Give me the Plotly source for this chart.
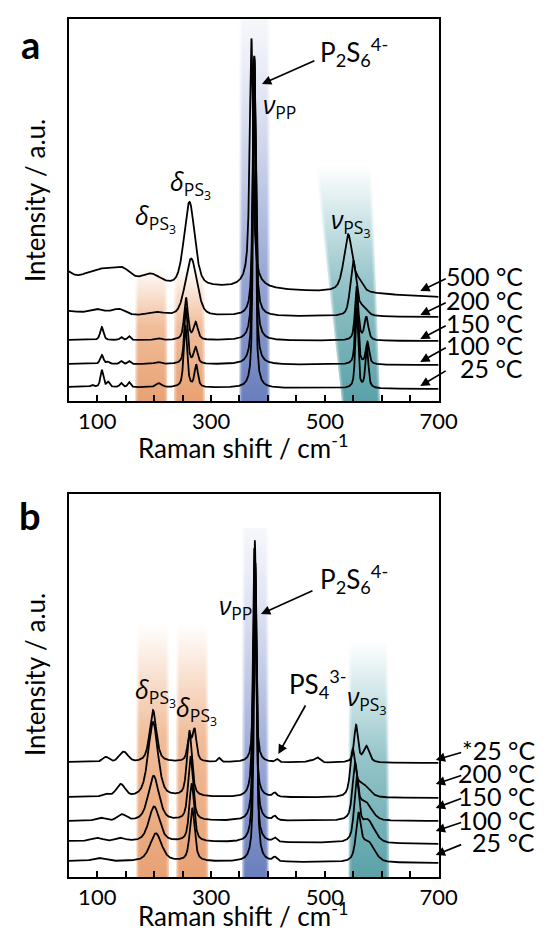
import numpy as np
import plotly.graph_objects as go

W, H = 550, 930

# ------------------------------------------------------------------ data
# Raman shift axis (cm-1)
X_MIN, X_MAX = 50, 700
MAJOR_TICKS = [100, 300, 500, 700]
MAJOR_LABELS = ["100", "300", "500", "700"]
MINOR_TICKS = [150, 200, 250, 350, 400, 450, 550, 600, 650]

# ---- panel a : temperatures, baselines (left / right end) and peaks
LABELS_A = ["25 °C", "100 °C", "150 °C", "200 °C", "500 °C"]
BASE_LEFT_A = [14, 37, 61, 86, 120]
BASE_RIGHT_A = [12, 36, 60, 84, 104]
# peaks: (centre cm-1, height, half width, lorentz fraction)
PEAKS_A_25 = [(91, 2, 3, 0.5), (108, 17, 3, 0.5), (119, 5, 3, 0.5), (142, 4, 3, 0.5),
              (156, 5, 3, 0.5), (208, 4, 6, 0.5), (255, 62, 3.5, 0.6), (274, 22, 3.5, 0.6),
              (376, 328, 2.5, 0.7), (556, 80, 2.8, 0.6), (574, 41, 3, 0.6)]
PEAKS_A_100 = [(108, 9, 3.5, 0.5), (119, 2, 3, 0.5), (142, 3, 3, 0.5), (156, 3, 3, 0.5),
               (206, 2, 6, 0.5), (256, 56, 3.5, 0.6), (273, 16, 4, 0.6),
               (376, 306, 2.8, 0.7), (556, 72, 3, 0.6), (575, 22, 3.5, 0.6)]
PEAKS_A_150 = [(108, 13, 3.5, 0.5), (142, 3, 3, 0.5), (156, 4, 3, 0.5), (206, 2, 6, 0.5),
               (256, 42, 4, 0.6), (273, 17, 4.5, 0.6), (376, 284, 3, 0.7),
               (556, 54, 3.5, 0.6), (573, 23, 4, 0.6)]
PEAKS_A_200 = [(50, 4, 20, 0), (99, 6, 18, 0), (138, 6, 14, 0), (203, 3, 16, 0),
               (265, 57, 12, 0.3), (376, 260, 3, 0.7), (550, 54, 6, 0.5), (565, 8, 10, 0.3)]
PEAKS_A_500 = [(40, 10, 14, 0), (115, 14, 41, 0), (145, 6, 14, 0), (195, 9, 18, 0),
               (262, 84, 11, 0.4), (371, 240, 3.5, 0.7), (371, 10, 15, 1.0),
               (541, 58, 9, 0.6), (560, 8, 8, 0.5)]
PEAKS_A = [PEAKS_A_25, PEAKS_A_100, PEAKS_A_150, PEAKS_A_200, PEAKS_A_500]

# ---- panel b
LABELS_B = ["25 °C", "100 °C", "150 °C", "200 °C", "*25 °C"]
BASE_LEFT_B = [16, 36, 56, 80, 115]
BASE_RIGHT_B = [14, 33, 56, 79, 114]
PEAKS_B_25 = [(102, 3, 12, 0), (203, 28, 12, 0.5), (267, 53, 5, 0.6), (378, 299, 2.8, 0.7),
              (412, 4, 4, 0.5), (559, 42, 5, 0.6), (575, 20, 14, 0.3)]
PEAKS_B_100 = [(100, 3, 12, 0), (140, 3, 10, 0), (200, 35, 11, 0.5), (266, 58, 5, 0.6),
               (377, 284, 2.8, 0.7), (412, 4, 4, 0.5), (556, 60, 5, 0.6), (575, 22, 14, 0.3)]
PEAKS_B_150 = [(105, 3, 10, 0), (143, 6, 9, 0), (199, 45, 11, 0.5), (264, 64, 5, 0.6),
               (377, 268, 2.8, 0.7), (412, 4, 4, 0.5), (553, 52, 5, 0.6), (570, 18, 14, 0.3)]
PEAKS_B_200 = [(115, 3, 8, 0), (141, 12, 9, 0), (198, 75, 10, 0.5), (262, 66, 5, 0.6),
               (376, 249, 2.8, 0.7), (412, 4, 4, 0.5), (549, 44, 5, 0.6), (565, 13, 14, 0.3)]
PEAKS_B_S25 = [(115, 5, 7, 0), (146, 10, 9, 0), (198, 52, 7, 0.6), (262, 26, 4, 0.6),
               (271, 31, 4, 0.6), (314, 4, 3, 0.5), (377, 222, 2.5, 0.7), (416, 3, 3, 0.5),
               (473, 2, 6, 0), (487, 5, 6, 0), (555, 37, 4, 0.6), (573, 16, 6, 0.6)]
PEAKS_B = [PEAKS_B_25, PEAKS_B_100, PEAKS_B_150, PEAKS_B_200, PEAKS_B_S25]

# ---- shaded bands: (left, right) at bottom, (left, right) at top, top intensity
BANDS_A = [((167, 223), (167, 223), 135, "orange"),
           ((235, 289), (235, 289), 135, "orange"),
           ((350, 403), (350, 403), 382, "blue"),
           ((530, 597), (484, 582), 236, "teal")]
BANDS_B = [((169, 226), (169, 226), 254, "orange"),
           ((239, 295), (239, 295), 254, "orange"),
           ((355, 401), (355, 401), 349, "blue"),
           ((542, 613), (542, 611), 236, "teal")]

Y_RANGE_A = [0, 382]
Y_RANGE_B = [0, 383]

# ------------------------------------------------------------------ helpers
COLORS = {
    "orange": [(0, (230, 152, 102), 1.0), (0.55, (236, 170, 126), 0.72), (1, (246, 205, 175), 0.0)],
    "blue": [(0, (90, 114, 182), 1.0), (0.35, (116, 136, 198), 0.62), (1, (205, 212, 236), 0.12)],
    "teal": [(0, (74, 152, 160), 1.0), (0.5, (110, 175, 182), 0.65), (1, (160, 205, 210), 0.0)],
}

x = np.arange(X_MIN, X_MAX + 0.001, 0.25)


def spectrum(base_l, base_r, peaks):
    y = base_l + (base_r - base_l) * (x - X_MIN) / (X_MAX - X_MIN)
    for c, h, w, eta in peaks:
        d = (x - c) / w
        y = y + h * (eta / (1 + d * d) + (1 - eta) * np.exp(-np.log(2) * d * d))
    return y


def band_traces(bands, xa, ya):
    out = []
    layers = [(0, 0.55), (2.5, 0.55), (5, 0.55)]
    for (bl, br), (tl, tr), top, cname in bands:
        for inset, f in layers:
            cs = [[p, f"rgba({c[0]},{c[1]},{c[2]},{a * f:.3f})"] for p, c, a in COLORS[cname]]
            out.append(go.Scatter(
                x=[bl + inset, br - inset, tr - inset, tl + inset, bl + inset],
                y=[0, 0, top, top, 0],
                xaxis=xa, yaxis=ya, mode="lines", line=dict(width=0),
                fill="toself",
                fillgradient=dict(type="vertical", colorscale=cs, start=0, stop=top),
                hoverinfo="skip", showlegend=False))
    return out


fig = go.Figure()
for tr in band_traces(BANDS_A, "x", "y"):
    fig.add_trace(tr)
for tr in band_traces(BANDS_B, "x2", "y2"):
    fig.add_trace(tr)

for i in range(len(LABELS_A)):
    fig.add_trace(go.Scatter(x=x, y=spectrum(BASE_LEFT_A[i], BASE_RIGHT_A[i], PEAKS_A[i]),
                             mode="lines", line=dict(color="black", width=1.8),
                             xaxis="x", yaxis="y", showlegend=False, name=LABELS_A[i]))
for i in range(len(LABELS_B)):
    fig.add_trace(go.Scatter(x=x, y=spectrum(BASE_LEFT_B[i], BASE_RIGHT_B[i], PEAKS_B[i]),
                             mode="lines", line=dict(color="black", width=1.8),
                             xaxis="x2", yaxis="y2", showlegend=False, name=LABELS_B[i]))

FONT = "Lato"
GREEK_FONT = "Open Sans"
px = lambda v: v / W
py = lambda v: 1 - v / H

x_dom = [px(63), px(446)]
xaxis_common = dict(range=[X_MIN, X_MAX], tickmode="array",
                    tickvals=MAJOR_TICKS, ticktext=MAJOR_LABELS,
                    ticks="inside", ticklen=6, tickwidth=1.5, tickcolor="black",
                    minor=dict(tickmode="array", tickvals=MINOR_TICKS, ticks="inside",
                               ticklen=6, tickwidth=1.5, tickcolor="black", showgrid=False),
                    showline=True, linewidth=2, linecolor="black", mirror=True,
                    showgrid=False, zeroline=False, domain=x_dom,
                    tickfont=dict(family=FONT, size=22, color="black"))
yaxis_common = dict(showticklabels=False, ticks="", showline=True, linewidth=2,
                    linecolor="black", mirror=True, showgrid=False, zeroline=False)

fig.update_layout(
    width=W, height=H, margin=dict(l=0, r=0, t=0, b=0),
    paper_bgcolor="white", plot_bgcolor="white", showlegend=False,
    xaxis=dict(anchor="y", **xaxis_common),
    yaxis=dict(anchor="x", domain=[py(393), py(11)], range=Y_RANGE_A, **yaxis_common),
    xaxis2=dict(anchor="y2", **xaxis_common),
    yaxis2=dict(anchor="x2", domain=[py(869), py(486)], range=Y_RANGE_B, **yaxis_common),
)

ann = []


def text(t, xp, yp, size=22, xanchor="left", yanchor="middle", angle=0, family=FONT):
    ann.append(dict(text=t, x=px(xp), y=py(yp), xref="paper", yref="paper",
                    xanchor=xanchor, yanchor=yanchor, showarrow=False, textangle=angle,
                    font=dict(family=family, size=size, color="black")))


def arrow(x0, y0, x1, y1):
    ann.append(dict(text="", x=px(x1), y=py(y1), xref="paper", yref="paper",
                    ax=x0 - x1, ay=y0 - y1, axref="pixel", ayref="pixel",
                    showarrow=True, arrowhead=2, arrowsize=1.1, arrowwidth=1.7,
                    arrowcolor="black"))


DELTA = "<i>δ</i><sub>PS<sub>3</sub></sub>"
NU_PS3 = "<i>ν</i><sub>PS<sub>3</sub></sub>"
NU_PP = "<i>ν</i><sub>PP</sub>"
P2S6 = "P<sub>2</sub>S<sub>6</sub><sup>4-</sup>"

# panel a
text("<b>a</b>", 23, 36, size=38, xanchor="center")
text("Intensity / a.u.", 28, 193, size=26, xanchor="center", angle=-90)
text("Raman shift / cm<sup>-1</sup>", 243, 458, size=26, xanchor="center", yanchor="bottom")
text(P2S6, 321, 44, size=26)
arrow(317, 52, 263, 76)
text(NU_PP, 262, 98, size=25, family=GREEK_FONT)
text(DELTA, 129, 210, size=25, family=GREEK_FONT)
text(DELTA, 166, 176, size=25, family=GREEK_FONT)
text(NU_PS3, 333, 214, size=25, family=GREEK_FONT)
lab_y_a = [360, 337, 315, 292, 268]
head_y_a = [378, 354, 331, 307, 283]
for i, lab in enumerate(LABELS_A):
    text(lab, 536, lab_y_a[i], size=25, xanchor="right")
    arrow(454, lab_y_a[i] + 2, 427, head_y_a[i])

# panel b
text("<b>b</b>", 23, 507, size=38, xanchor="center")
text("Intensity / a.u.", 28, 667, size=26, xanchor="center", angle=-90)
text("Raman shift / cm<sup>-1</sup>", 243, 926, size=26, xanchor="center", yanchor="bottom")
text(P2S6, 321, 571, size=26)
arrow(315, 582, 262, 606)
text(NU_PP, 216, 598, size=25, family=GREEK_FONT)
text(DELTA, 129, 684, size=25, family=GREEK_FONT)
text(DELTA, 172, 702, size=25, family=GREEK_FONT)
text("PS<sub>4</sub><sup>3-</sup>", 289, 676, size=26)
arrow(308, 696, 280, 746)
text(NU_PS3, 349, 691, size=25, family=GREEK_FONT)
lab_y_b = [834, 812, 788, 765, 742]
head_y_b = [847, 823, 800, 776, 752]
for i, lab in enumerate(LABELS_B):
    text(lab, 548, lab_y_b[i], size=25, xanchor="right")
    arrow(470, lab_y_b[i] + 2, 443, head_y_b[i])

fig.update_layout(annotations=ann)
fig.write_html("out.html")
